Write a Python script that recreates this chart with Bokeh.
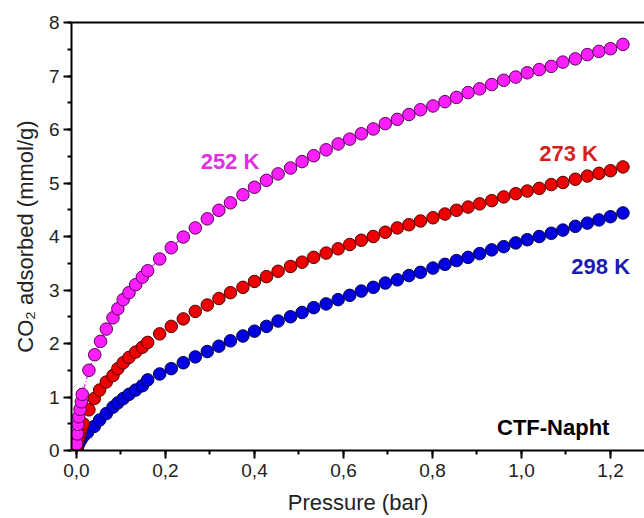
from bokeh.plotting import figure
from bokeh.models import (LinearAxis, SingleIntervalTicker, FixedTicker,
                          CustomJSTickFormatter, Range1d, ColumnDataSource)
from bokeh.core.properties import value
from bokeh.embed import file_html
from bokeh.resources import INLINE

# ---------------- data ----------------
x_high = [0.187, 0.213, 0.240, 0.267, 0.294, 0.320, 0.346, 0.374, 0.400, 0.427,
          0.453, 0.481, 0.507, 0.533, 0.561, 0.588, 0.614, 0.640, 0.667, 0.694,
          0.721, 0.747, 0.773, 0.801, 0.828, 0.854, 0.880, 0.906, 0.933, 0.960,
          0.987, 1.013, 1.040, 1.067, 1.093, 1.121, 1.148, 1.174, 1.200, 1.228]

p252_low = [0.000, 0.002, 0.003, 0.005, 0.008, 0.011, 0.013,
            0.028, 0.041, 0.054, 0.067, 0.082, 0.093, 0.105, 0.118, 0.133, 0.148, 0.160]
q252_low = [0.12, 0.31, 0.49, 0.63, 0.77, 0.91, 1.05,
            1.50, 1.79, 2.04, 2.27, 2.48, 2.65, 2.82, 2.95, 3.10, 3.24, 3.36]
q252_high = [3.58, 3.79, 3.99, 4.16, 4.33, 4.49, 4.63, 4.78, 4.92, 5.05,
             5.17, 5.28, 5.40, 5.51, 5.62, 5.73, 5.82, 5.92, 6.01, 6.11,
             6.19, 6.28, 6.37, 6.44, 6.52, 6.60, 6.69, 6.76, 6.84, 6.92,
             6.98, 7.06, 7.12, 7.18, 7.26, 7.32, 7.40, 7.46, 7.51, 7.59]

p273_low = [0.001, 0.003, 0.006, 0.009, 0.012, 0.015,
            0.028, 0.040, 0.052, 0.067, 0.082, 0.093, 0.105, 0.118, 0.133, 0.148, 0.160]
q273_low = [0.08, 0.17, 0.26, 0.34, 0.42, 0.50,
            0.76, 0.97, 1.13, 1.28, 1.40, 1.53, 1.64, 1.74, 1.84, 1.93, 2.02]
q273_high = [2.18, 2.32, 2.46, 2.60, 2.72, 2.84, 2.95, 3.05, 3.16, 3.25,
             3.35, 3.44, 3.52, 3.61, 3.69, 3.77, 3.85, 3.93, 4.00, 4.08,
             4.16, 4.22, 4.29, 4.35, 4.42, 4.49, 4.55, 4.61, 4.67, 4.74,
             4.80, 4.85, 4.90, 4.97, 5.01, 5.07, 5.13, 5.18, 5.23, 5.30]

p298_low = [0.002, 0.005, 0.010, 0.016, 0.025,
            0.040, 0.052, 0.067, 0.082, 0.093, 0.105, 0.118, 0.133, 0.148, 0.160]
q298_low = [0.05, 0.12, 0.20, 0.27, 0.34,
            0.45, 0.57, 0.69, 0.81, 0.89, 0.97, 1.05, 1.13, 1.21, 1.32]
q298_high = [1.43, 1.53, 1.64, 1.75, 1.85, 1.95, 2.05, 2.14, 2.23, 2.32,
             2.42, 2.50, 2.58, 2.67, 2.74, 2.82, 2.90, 2.98, 3.05, 3.13,
             3.19, 3.27, 3.33, 3.41, 3.48, 3.55, 3.61, 3.68, 3.75, 3.81,
             3.88, 3.94, 4.00, 4.06, 4.12, 4.19, 4.25, 4.31, 4.37, 4.44]

series_names = ["298 K", "273 K", "252 K"]
x_ticks_step = 0.2
y_ticks_step = 1

FONT = "Liberation Sans"

p = figure(width=644, height=518, output_backend="svg", toolbar_location=None,
           x_range=Range1d(-0.0112, 1.2764), y_range=Range1d(0, 8),
           min_border_left=71, min_border_top=22, min_border_right=0,
           min_border_bottom=68, x_axis_type=None, y_axis_type=None)
p.outline_line_color = None
p.xgrid.visible = False
p.ygrid.visible = False
p.background_fill_color = "white"
p.border_fill_color = "white"

fmt_x = CustomJSTickFormatter(code="return tick.toFixed(1).replace('.', ',');")
fmt_y = CustomJSTickFormatter(code="return tick.toFixed(0);")

def style_axis(ax):
    ax.axis_line_width = 2
    ax.axis_line_color = "black"
    ax.major_tick_line_width = 2
    ax.minor_tick_line_width = 2
    ax.major_tick_in = 0
    ax.major_tick_out = 8
    ax.minor_tick_in = 0
    ax.minor_tick_out = 4
    ax.major_label_text_font = FONT
    ax.major_label_text_font_size = "19px"
    ax.major_label_text_color = "#222222"
    ax.axis_label_text_font = FONT
    ax.axis_label_text_font_size = "22px"
    ax.axis_label_text_font_style = "normal"
    ax.axis_label_text_color = "#222222"

xax = LinearAxis(ticker=SingleIntervalTicker(interval=x_ticks_step, num_minor_ticks=2),
                 formatter=fmt_x, axis_label="Pressure (bar)")
style_axis(xax)
xax.major_label_standoff = 5
xax.axis_label_standoff = 10
p.add_layout(xax, "below")

yax = LinearAxis(ticker=SingleIntervalTicker(interval=y_ticks_step, num_minor_ticks=2),
                 formatter=fmt_y, axis_label="CO\u2082 adsorbed (mmol/g)")
style_axis(yax)
yax.major_label_standoff = 4
yax.axis_label_standoff = 8
p.add_layout(yax, "left")

top = LinearAxis(ticker=FixedTicker(ticks=[]), major_label_text_font_size="0px")
top.axis_line_width = 2
top.major_tick_line_color = None
top.minor_tick_line_color = None
p.add_layout(top, "above")

# ---------------- series ----------------
fills = {"298 K": "#0000e0", "273 K": "#ee0000", "252 K": "#ff1eff"}
edges = {"298 K": "#00004a", "273 K": "#500000", "252 K": "#550055"}
data = {
    "298 K": (p298_low + x_high, q298_low + q298_high),
    "273 K": (p273_low + x_high, q273_low + q273_high),
    "252 K": (p252_low + x_high, q252_low + q252_high),
}

for name in series_names:
    xs, ys = data[name]
    src = ColumnDataSource(dict(x=xs, y=ys))
    if name == "252 K":
        p.line("x", "y", source=src, line_color=fills[name], line_width=1.2,
               line_dash="6 2 1 2")
    p.scatter("x", "y", source=src, size=12.5, marker="circle",
              fill_color=fills[name], line_color=edges[name], line_width=1)

# ---------------- labels ----------------
label_text = ["252 K", "273 K", "298 K", "CTF-Napht"]
label_x = [0.279, 1.040, 1.112, 0.945]
label_y = [5.40, 5.55, 3.44, 0.435]
label_color = ["#e030e0", "#d61f1f", "#1a1ab4", "#000000"]
label_size = ["22px", "22px", "22px", "22px"]

lsrc = ColumnDataSource(dict(x=label_x, y=label_y, t=label_text, c=label_color,
                             s=label_size))
p.text("x", "y", text="t", source=lsrc, text_color="c", text_font_size="s",
       text_font=value(FONT), text_font_style="bold",
       text_align="left", text_baseline="alphabetic")

open("out.html", "w").write(file_html(p, INLINE))
